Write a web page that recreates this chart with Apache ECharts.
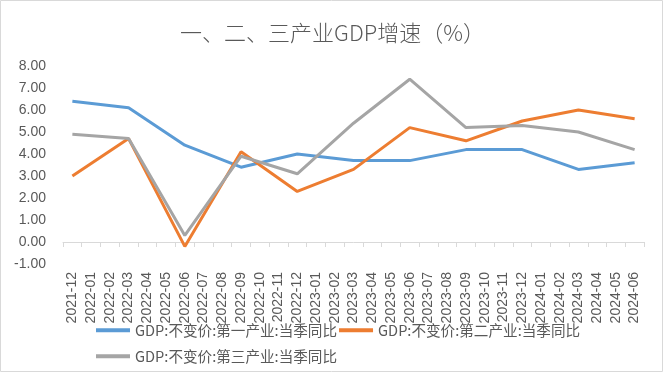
<!DOCTYPE html>
<html>
<head>
<meta charset="utf-8">
<script src="https://cdn.jsdelivr.net/npm/echarts@6/dist/echarts.min.js"></script>
<style>
html,body{margin:0;padding:0;background:#fff;}
#c{width:665px;height:374px;}
</style>
</head>
<body>
<div id="c"></div>
<script>
var categories = ['2021-12','2022-01','2022-02','2022-03','2022-04','2022-05','2022-06','2022-07','2022-08','2022-09','2022-10','2022-11','2022-12','2023-01','2023-02','2023-03','2023-04','2023-05','2023-06','2023-07','2023-08','2023-09','2023-10','2023-11','2023-12','2024-01','2024-02','2024-03','2024-04','2024-05','2024-06'];
var primary   = [6.4,null,null,6.1,null,null,4.4,null,null,3.4,null,null,4.0,null,null,3.7,null,null,3.7,null,null,4.2,null,null,4.2,null,null,3.3,null,null,3.6];
var secondary = [3.0,null,null,4.7,null,null,-0.2,null,null,4.1,null,null,2.3,null,null,3.3,null,null,5.2,null,null,4.6,null,null,5.5,null,null,6.0,null,null,5.6];
var tertiary  = [4.9,null,null,4.7,null,null,0.3,null,null,3.9,null,null,3.1,null,null,5.4,null,null,7.4,null,null,5.2,null,null,5.3,null,null,5.0,null,null,4.2];
var seriesNames = ['GDP:不变价:第一产业:当季同比','GDP:不变价:第二产业:当季同比','GDP:不变价:第三产业:当季同比'];
var colors = ['#5B9BD5','#ED7D31','#A5A5A5'];
var yTicks = {min:-1, max:8, interval:1};

var chart = echarts.init(document.getElementById('c'));
var legendText = {fontFamily:'Noto Sans CJK SC', fontSize:14.6, color:'#595959'};
chart.setOption({
  animation:false,
  color: colors,
  title:{
    text:'一、二、三产业GDP增速（%）',
    left:'center', top:17,
    textStyle:{fontFamily:'Noto Sans CJK SC', fontSize:22, fontWeight:300, color:'#595959'}
  },
  graphic:[{type:'rect', shape:{x:0.5,y:0.5,width:662,height:371}, style:{fill:null, stroke:'#d9d9d9', lineWidth:1}, silent:true}],
  legend:[
    {data:[seriesNames[0],seriesNames[1]], left:91, top:318, icon:'rect', itemWidth:34, itemHeight:4, itemGap:2, textStyle:legendText},
    {data:[seriesNames[2]], left:91, top:344, icon:'rect', itemWidth:34, itemHeight:4, itemGap:2, textStyle:legendText}
  ],
  grid:{left:63, right:21, top:66, bottom:110, containLabel:false},
  xAxis:{
    type:'category', data:categories, boundaryGap:true,
    axisLine:{onZero:true, lineStyle:{color:'#d9d9d9', width:1}},
    axisTick:{show:true, length:5, lineStyle:{color:'#d9d9d9'}},
    axisLabel:{rotate:90, interval:0, margin:8, fontFamily:'Liberation Sans', fontSize:14, color:'#595959'},
    splitLine:{show:false}
  },
  yAxis:{
    type:'value', min:yTicks.min, max:yTicks.max, interval:yTicks.interval,
    axisLine:{show:false}, axisTick:{show:false}, splitLine:{show:false},
    axisLabel:{margin:17, fontFamily:'Liberation Sans', fontSize:14, color:'#595959', formatter:function(v){return v.toFixed(2);}}
  },
  series:[
    {name:seriesNames[0], type:'line', data:primary, connectNulls:true, showSymbol:false, symbol:'none', lineStyle:{width:3, color:colors[0]}, itemStyle:{color:colors[0]}},
    {name:seriesNames[1], type:'line', data:secondary, connectNulls:true, showSymbol:false, symbol:'none', lineStyle:{width:3, color:colors[1]}, itemStyle:{color:colors[1]}},
    {name:seriesNames[2], type:'line', data:tertiary, connectNulls:true, showSymbol:false, symbol:'none', lineStyle:{width:3, color:colors[2]}, itemStyle:{color:colors[2]}}
  ]
});
</script>
</body>
</html>
